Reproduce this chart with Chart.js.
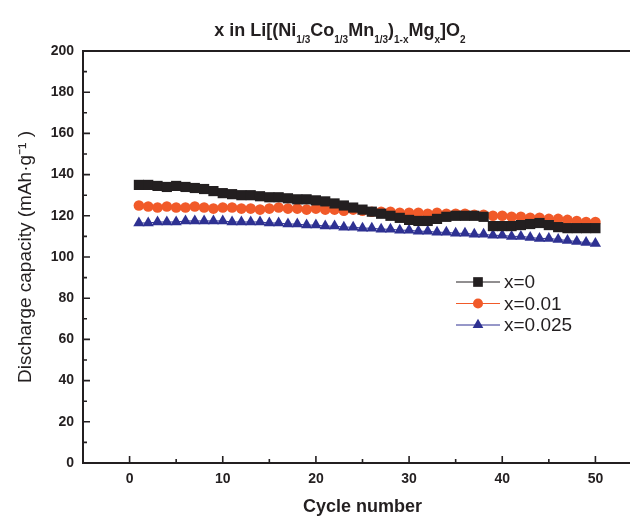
<!DOCTYPE html>
<html>
<head>
<meta charset="utf-8">
<script src="https://cdn.jsdelivr.net/npm/chart.js@4.4.0/dist/chart.umd.min.js"></script>
<style>
  body { margin: 0; background: #fff; overflow: hidden; }
  .wrap { position: relative; width: 660px; height: 518px; }
  #title {
    position: absolute; top: 20px; left: 0; width: 680px; text-align: center;
    font: bold 18px "Liberation Sans", Arial, sans-serif; color: #231f20;
  }
  #title sub { font-size: 10px; vertical-align: -7px; }
</style>
</head>
<body>
<div class="wrap">
  <div id="title">x in Li[(Ni<sub>1/3</sub>Co<sub>1/3</sub>Mn<sub>1/3</sub>)<sub>1-x</sub>Mg<sub>x</sub>]O<sub>2</sub></div>
  <canvas id="chart" width="660" height="518"></canvas>
</div>
<script>
// Data
const cycles = [1, 2, 3, 4, 5, 6, 7, 8, 9, 10, 11, 12, 13, 14, 15, 16, 17, 18, 19, 20,
  21, 22, 23, 24, 25, 26, 27, 28, 29, 30, 31, 32, 33, 34, 35, 36, 37, 38, 39, 40,
  41, 42, 43, 44, 45, 46, 47, 48, 49, 50];

const seriesLabels = ['x=0', 'x=0.01', 'x=0.025'];

const capX0 = [135, 135, 134.5, 134, 134.5, 134, 133.5, 133, 132, 131, 130.5, 130, 130, 129.5, 129,
  129, 128.5, 128, 128, 127.5, 127, 126, 125, 124, 123, 122, 121, 120, 119, 118,
  117.5, 117.5, 118.5, 119.5, 120, 120, 120, 119.5, 115, 115, 115, 115.5, 116, 116.5, 115.5,
  114.5, 114, 114, 114, 114];

const capX001 = [125, 124.5, 124, 124.5, 124, 124, 124.5, 124, 123.5, 124, 124, 123.5, 123.5, 123, 123.5,
  124, 123.5, 123.5, 123, 123.5, 123, 123, 122.5, 123, 122.5, 122, 122, 122, 121.5, 121.5,
  121.5, 121, 121.5, 121, 121, 121, 120.5, 120.5, 120, 120, 119.5, 119.5, 119, 119, 118.5,
  118.5, 118, 117.5, 117, 117];

const capX0025 = [116.5, 116.5, 117, 117, 117, 117.5, 117.5, 117.5, 117.5, 117.5, 117, 117, 117, 117, 116.5,
  116.5, 116, 116, 115.5, 115.5, 115, 115, 114.5, 114.5, 114, 114, 113.5, 113.5, 113, 113,
  112.5, 112.5, 112, 112, 111.5, 111.5, 111, 111, 110.5, 110.5, 110, 110, 109.5, 109, 109,
  108.5, 108, 107.5, 107, 106.5];

const xTicks = [0, 10, 20, 30, 40, 50];
const yTicks = [0, 20, 40, 60, 80, 100, 120, 140, 160, 180, 200];

const font = '"Liberation Sans", Arial, sans-serif';
const ink = '#231f20';

function toPoints(vals) {
  return cycles.map((c, i) => ({ x: c, y: vals[i] }));
}

const styles = [
  { color: '#231f20', pointStyle: 'rect', radius: 7.2 },
  { color: '#f15a29', pointStyle: 'circle', radius: 5.3 },
  { color: '#2e3192', pointStyle: 'triangle', radius: 6.5 }
];

const datasets = [capX0, capX001, capX0025].map((vals, i) => ({
  label: seriesLabels[i],
  data: toPoints(vals),
  borderColor: styles[i].color,
  backgroundColor: styles[i].color,
  borderWidth: 1,
  pointStyle: styles[i].pointStyle,
  pointRadius: styles[i].radius,
  pointBorderWidth: 0,
  pointBackgroundColor: styles[i].color,
  tension: 0
}));

// ticks pointing into the plot + top frame line
const innerTicks = {
  id: 'innerTicks',
  afterDraw(chart) {
    const ctx = chart.ctx;
    const area = chart.chartArea;
    const xs = chart.scales.x, ys = chart.scales.y;
    ctx.save();
    ctx.strokeStyle = ink;
    ctx.lineWidth = 1.6;
    ctx.beginPath();
    xTicks.forEach(v => {
      const px = xs.getPixelForValue(v);
      ctx.moveTo(px, area.bottom); ctx.lineTo(px, area.bottom - 7);
      if (v + 5 < xs.max) {
        const pm = xs.getPixelForValue(v + 5);
        ctx.moveTo(pm, area.bottom); ctx.lineTo(pm, area.bottom - 4);
      }
    });
    yTicks.forEach(v => {
      const py = ys.getPixelForValue(v);
      ctx.moveTo(area.left, py); ctx.lineTo(area.left + 7, py);
      if (v + 10 < ys.max) {
        const pm = ys.getPixelForValue(v + 10);
        ctx.moveTo(area.left, pm); ctx.lineTo(area.left + 4, pm);
      }
    });
    ctx.stroke();
    ctx.lineWidth = 2;
    ctx.beginPath();
    ctx.moveTo(area.left, area.top);
    ctx.lineTo(area.right, area.top);
    ctx.stroke();
    ctx.restore();
  }
};

function drawMarker(ctx, style, x, y, r) {
  ctx.beginPath();
  if (style === 'rect') {
    const s = r * Math.SQRT1_2;
    ctx.rect(x - s, y - s, 2 * s, 2 * s);
  } else if (style === 'circle') {
    ctx.arc(x, y, r, 0, Math.PI * 2);
  } else {
    ctx.moveTo(x, y - r);
    ctx.lineTo(x + r * 0.866, y + r * 0.5);
    ctx.lineTo(x - r * 0.866, y + r * 0.5);
    ctx.closePath();
  }
  ctx.fill();
}

// legend with line-marker-line samples
const lineLegend = {
  id: 'lineLegend',
  afterDraw(chart) {
    const ctx = chart.ctx;
    ctx.save();
    chart.data.datasets.forEach((ds, i) => {
      const y = 282 + i * 21.5;
      ctx.strokeStyle = ds.borderColor;
      ctx.lineWidth = 1;
      ctx.beginPath();
      ctx.moveTo(456, y); ctx.lineTo(500, y);
      ctx.stroke();
      ctx.fillStyle = ds.borderColor;
      drawMarker(ctx, ds.pointStyle, 478, y, ds.pointRadius * 0.95);
      ctx.fillStyle = ink;
      ctx.font = '19px ' + font;
      ctx.textBaseline = 'middle';
      ctx.fillText(ds.label, 504, y + 1);
    });
    ctx.restore();
  }
};

new Chart(document.getElementById('chart'), {
  type: 'line',
  data: { datasets: datasets },
  options: {
    responsive: false,
    animation: false,
    layout: { padding: { top: 51, right: 18, left: 0, bottom: 0 } },
    plugins: { legend: { display: false }, tooltip: { enabled: false } },
    scales: {
      x: {
        type: 'linear', min: -5, max: 55,
        afterBuildTicks: s => { s.ticks = xTicks.map(v => ({ value: v })); },
        afterFit: s => { s.height = 55; },
        grid: { display: false, drawTicks: false },
        border: { display: true, width: 2, color: ink },
        ticks: { padding: 8, color: ink, maxRotation: 0, font: { family: font, size: 14, weight: 'bold' } },
        title: { display: true, text: 'Cycle number', color: ink, padding: { top: 0, bottom: 0 },
          font: { family: font, size: 18, weight: 'bold' } }
      },
      y: {
        min: 0, max: 200,
        afterBuildTicks: s => { s.ticks = yTicks.map(v => ({ value: v })); },
        afterFit: s => { s.width = 83; },
        grid: { display: false, drawTicks: false },
        border: { display: true, width: 2, color: ink },
        ticks: { padding: 9, color: ink, font: { family: font, size: 14, weight: 'bold' } },
        title: { display: true, text: 'Discharge capacity (mAh·g⁻¹ )', color: ink, padding: { top: 14, bottom: 0 },
          font: { family: font, size: 19 } }
      }
    }
  },
  plugins: [innerTicks, lineLegend]
});
</script>
</body>
</html>
